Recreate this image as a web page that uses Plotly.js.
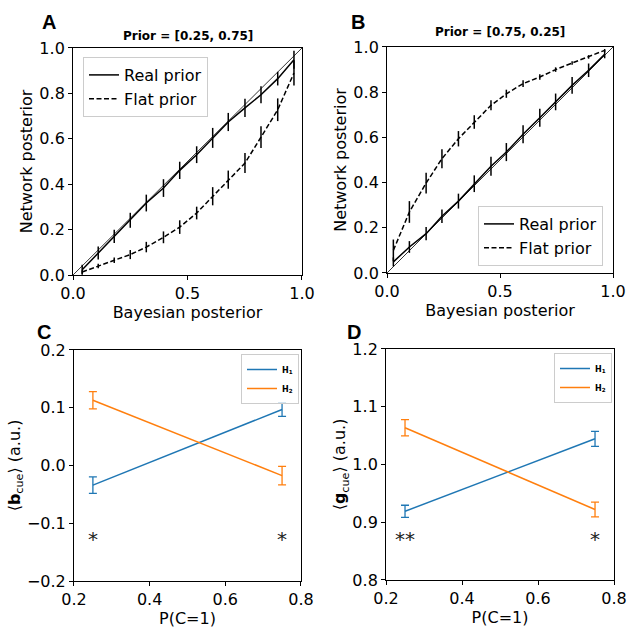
<!DOCTYPE html>
<html><head><meta charset="utf-8">
<script src="https://cdn.plot.ly/plotly-3.0.1.min.js"></script>
<style>html,body{margin:0;padding:0;background:#fff}</style>
</head><body><div id="chart" style="width:629px;height:629px"></div>
<script>
// Panel A (Prior = [0.25, 0.75])
const bayesA = [0.04, 0.11, 0.18, 0.25, 0.32, 0.395, 0.466, 0.54, 0.61, 0.678, 0.751, 0.821, 0.894, 0.965];
const realA = [0.023, 0.097, 0.17, 0.241, 0.317, 0.383, 0.461, 0.53, 0.604, 0.674, 0.736, 0.794, 0.865, 0.948];
const realAerr = [0.022, 0.029, 0.029, 0.033, 0.037, 0.039, 0.038, 0.037, 0.044, 0.04, 0.04, 0.037, 0.03, 0.04];
const flatA = [0.013, 0.04, 0.065, 0.09, 0.123, 0.166, 0.211, 0.273, 0.347, 0.42, 0.493, 0.607, 0.728, 0.89];
const flatAerr = [0.008, 0.01, 0.012, 0.02, 0.023, 0.026, 0.03, 0.028, 0.04, 0.04, 0.044, 0.048, 0.05, 0.055];
// Panel B (Prior = [0.75, 0.25])
const bayesB = [0.028, 0.099, 0.173, 0.243, 0.316, 0.386, 0.46, 0.528, 0.602, 0.676, 0.746, 0.819, 0.892, 0.963];
const realB = [0.049, 0.115, 0.174, 0.251, 0.318, 0.395, 0.472, 0.535, 0.614, 0.687, 0.757, 0.83, 0.897, 0.968];
const realBerr = [0.02, 0.026, 0.029, 0.03, 0.033, 0.037, 0.042, 0.04, 0.04, 0.04, 0.037, 0.037, 0.03, 0.018];
const flatB = [0.1, 0.27, 0.398, 0.506, 0.594, 0.668, 0.742, 0.793, 0.838, 0.867, 0.9, 0.929, 0.956, 0.985];
const flatBerr = [0.048, 0.048, 0.046, 0.042, 0.034, 0.03, 0.022, 0.018, 0.015, 0.012, 0.01, 0.008, 0.008, 0.006];
const diag = [0, 1];
// Panels C, D
const pc = [0.25, 0.75];
const bH1 = [-0.034, 0.097], bH1err = [0.0144, 0.012];
const bH2 = [0.113, -0.0175], bH2err = [0.015, 0.016];
const gH1 = [0.919, 1.0445], gH1err = [0.0104, 0.013];
const gH2 = [1.0636, 0.922], gH2err = [0.014, 0.0127];
const starsC = ['*', '*'], starsCy = [-0.13, -0.13];
const starsD = ['**', '*'], starsDy = [0.867, 0.867];

const F = 'DejaVu Sans, sans-serif';
const blue = '#1f77b4', orange = '#ff7f0e';

function ebar(arr, color, w, th) { return {type:'data', array:arr, visible:true, color:color, thickness:th, width:w}; }

const traces = [
  {x:diag, y:diag, mode:'lines', line:{color:'black', width:0.8}, showlegend:false, xaxis:'x', yaxis:'y', hoverinfo:'skip'},
  {x:bayesA, y:realA, mode:'lines', name:'Real prior', line:{color:'black', width:1.5}, error_y:ebar(realAerr,'black',0,1.5), xaxis:'x', yaxis:'y', legend:'legend'},
  {x:bayesA, y:flatA, mode:'lines', name:'Flat prior', line:{color:'black', width:1.5, dash:'5px,2.5px'}, error_y:ebar(flatAerr,'black',0,1.5), xaxis:'x', yaxis:'y', legend:'legend'},
  {x:diag, y:diag, mode:'lines', line:{color:'black', width:0.8}, showlegend:false, xaxis:'x2', yaxis:'y2', hoverinfo:'skip'},
  {x:bayesB, y:realB, mode:'lines', name:'Real prior', line:{color:'black', width:1.5}, error_y:ebar(realBerr,'black',0,1.5), xaxis:'x2', yaxis:'y2', legend:'legend2'},
  {x:bayesB, y:flatB, mode:'lines', name:'Flat prior', line:{color:'black', width:1.5, dash:'5px,2.5px'}, error_y:ebar(flatBerr,'black',0,1.5), xaxis:'x2', yaxis:'y2', legend:'legend2'},
  {x:pc, y:bH1, mode:'lines', name:'<b>H<sub>1</sub></b>', line:{color:blue, width:1.5}, error_y:ebar(bH1err,blue,4,1.3), xaxis:'x3', yaxis:'y3', legend:'legend3'},
  {x:pc, y:bH2, mode:'lines', name:'<b>H<sub>2</sub></b>', line:{color:orange, width:1.5}, error_y:ebar(bH2err,orange,4,1.3), xaxis:'x3', yaxis:'y3', legend:'legend3'},
  {x:pc, y:starsCy, mode:'text', text:starsC, textfont:{family:F, size:20, color:'#222'}, showlegend:false, xaxis:'x3', yaxis:'y3'},
  {x:pc, y:gH1, mode:'lines', name:'<b>H<sub>1</sub></b>', line:{color:blue, width:1.5}, error_y:ebar(gH1err,blue,4,1.3), xaxis:'x4', yaxis:'y4', legend:'legend4'},
  {x:pc, y:gH2, mode:'lines', name:'<b>H<sub>2</sub></b>', line:{color:orange, width:1.5}, error_y:ebar(gH2err,orange,4,1.3), xaxis:'x4', yaxis:'y4', legend:'legend4'},
  {x:pc, y:starsDy, mode:'text', text:starsD, textfont:{family:F, size:20, color:'#222'}, showlegend:false, xaxis:'x4', yaxis:'y4'}
];

function ax(extra) {
  return Object.assign({showline:true, mirror:true, linecolor:'black', linewidth:1, ticks:'outside', ticklen:4, tickcolor:'black',
    showgrid:false, zeroline:false, tickfont:{family:F, size:16, color:'black'}}, extra);
}
const tf = {family:F, size:16, color:'black'};
function leg(x, y, xa, ya, size, extra) {
  return Object.assign({x:x, y:y, xanchor:xa, yanchor:ya, bgcolor:'rgba(255,255,255,0.8)', bordercolor:'#ccc', borderwidth:1,
    font:{family:F, size:size, color:'black'}}, extra||{});
}
function lbl(t, px, py, size, fam) {
  return {text:t, x:px/629, y:1-py/629, xref:'paper', yref:'paper', xanchor:'center', yanchor:'middle', showarrow:false,
    font:{family:fam||F, size:size, color:'black'}};
}

const layout = {
  width:629, height:629, margin:{l:0, r:0, t:0, b:0}, paper_bgcolor:'white', plot_bgcolor:'white',
  xaxis: ax({domain:[0.1161, 0.4801], range:[0,1], tickvals:[0,0.5,1], ticktext:['0.0','0.5','1.0'], title:{text:'Bayesian posterior', font:tf, standoff:4}, anchor:'y'}),
  yaxis: ax({domain:[0.5628, 0.9237], range:[0,1], dtick:0.2, tickformat:'.1f', title:{text:'Network posterior', font:tf, standoff:2}, anchor:'x'}),
  xaxis2: ax({domain:[0.6153, 0.9746], range:[0,1], tickvals:[0,0.5,1], ticktext:['0.0','0.5','1.0'], title:{text:'Bayesian posterior', font:tf, standoff:4}, anchor:'y2'}),
  yaxis2: ax({domain:[0.566, 0.9253], range:[0,1], dtick:0.2, tickformat:'.1f', title:{text:'Network posterior', font:tf, standoff:2}, anchor:'x2'}),
  xaxis3: ax({domain:[0.1176, 0.4785], range:[0.2,0.8], dtick:0.2, tickformat:'.1f', title:{text:'P(C=1)', font:tf, standoff:4}, anchor:'y3'}),
  yaxis3: ax({domain:[0.0763, 0.4436], range:[-0.2,0.2], dtick:0.1, tickformat:'.1f', title:{text:'⟨<b>b</b><sub>cue</sub>⟩ (a.u.)', font:tf, standoff:2}, anchor:'x3'}),
  xaxis4: ax({domain:[0.6137, 0.9762], range:[0.2,0.8], dtick:0.2, tickformat:'.1f', title:{text:'P(C=1)', font:tf, standoff:4}, anchor:'y4'}),
  yaxis4: ax({domain:[0.0779, 0.4452], range:[0.8,1.2], dtick:0.1, tickformat:'.1f', title:{text:'⟨<b>g</b><sub>cue</sub>⟩ (a.u.)', font:tf, standoff:2}, anchor:'x4'}),
  legend: leg(83/629, 1-57/629, 'left', 'top', 16),
  legend2: leg(603/629, 1-266/629, 'right', 'bottom', 16),
  legend3: leg(299/629, 1-354/629, 'right', 'top', 8, {itemwidth:30, tracegroupgap:0}),
  legend4: leg(612/629, 1-353/629, 'right', 'top', 8, {itemwidth:30, tracegroupgap:0}),
  annotations: [
    lbl('<b>Prior = [0.25, 0.75]</b>', 188, 36, 12),
    lbl('<b>Prior = [0.75, 0.25]</b>', 500, 32, 12),
    lbl('<b>A</b>', 48.5, 22, 20, 'Liberation Sans, Arial'),
    lbl('<b>B</b>', 358, 22, 20, 'Liberation Sans, Arial'),
    lbl('<b>C</b>', 44, 332, 20, 'Liberation Sans, Arial'),
    lbl('<b>D</b>', 354, 332, 20, 'Liberation Sans, Arial')
  ]
};
Plotly.newPlot('chart', traces, layout, {displayModeBar:false});
</script></body></html>
